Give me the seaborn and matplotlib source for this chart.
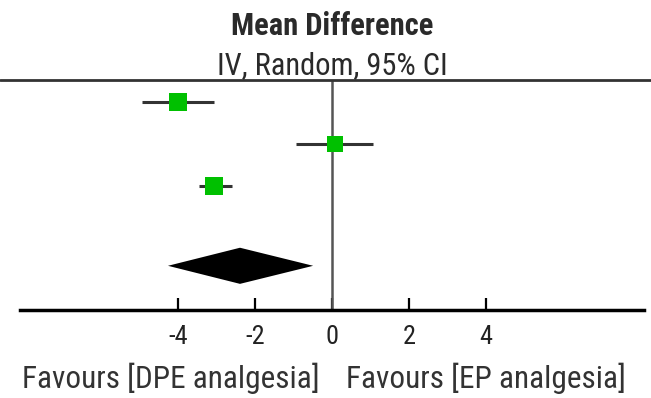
import numpy as np
import pandas as pd
import matplotlib
matplotlib.use("Agg")
import matplotlib.pyplot as plt
import seaborn as sns

# -------------------------------
# Data (mean difference, 95% CI)
# -------------------------------
studies = ["Study 1", "Study 2", "Study 3"]
md = [-4.0, 0.08, -3.06]
ci_low = [-4.94, -0.94, -3.45]
ci_high = [-3.06, 1.07, -2.60]
weights = [150, 140, 165]          # marker size (pt^2)

pooled_md = -2.39
pooled_low = -4.26
pooled_high = -0.49

tick_values = [-4, -2, 0, 2, 4]
tick_labels = ["-4", "-2", "0", "2", "4"]

title_line1 = "Mean Difference"
title_line2 = "IV, Random, 95% CI"
left_label = "Favours [DPE analgesia]"
right_label = "Favours [EP analgesia]"

# -------------------------------
# Plot
# -------------------------------
sns.set_style("white")
plt.rcParams["font.family"] = ["Roboto Condensed", "Roboto", "DejaVu Sans"]
plt.rcParams["font.stretch"] = "condensed"

fig = plt.figure(figsize=(6.51, 3.98), dpi=100)
ax = fig.add_axes([0, 0, 1, 1])

rows = np.arange(len(studies))
pooled_row = 3.9
axis_row = 4.95
top_row = -0.52

df = pd.DataFrame({"md": md, "row": rows, "w": weights})

# confidence interval lines
ax.hlines(rows, ci_low, ci_high, color="#333333", lw=2.2, zorder=2)

# study squares
sns.scatterplot(data=df, x="md", y="row", size="w", sizes=(min(weights), max(weights)),
                marker="s", color="#00c000", edgecolor="none", legend=False, ax=ax, zorder=3)

# pooled diamond
ax.fill([pooled_low, pooled_md, pooled_high, pooled_md],
        [pooled_row, pooled_row - 0.43, pooled_row, pooled_row + 0.43],
        color="black", lw=0, zorder=3)

# zero line and header line
ax.vlines(0, top_row, axis_row, color="#555555", lw=1.8, zorder=1)
ax.axhline(top_row, color="#333333", lw=2, zorder=1)

ax.set_xlim(-332 / 38.5, (651 - 332) / 38.5)
ax.set_ylim((398 - 102) / 42, -102 / 42)

# x axis drawn at the bottom row
for s in ["left", "right", "top"]:
    ax.spines[s].set_visible(False)
ax.spines["bottom"].set_position(("data", axis_row))
ax.spines["bottom"].set_bounds(-8.1, 8.1)
ax.spines["bottom"].set_linewidth(2.5)
ax.spines["bottom"].set_color("black")
ax.set_xticks(tick_values)
ax.set_xticklabels(tick_labels)
ax.tick_params(axis="x", bottom=True, direction="in", length=8.5, width=1.6, color="black",
               pad=11, labelsize=19, labelcolor="#222222")
ax.set_yticks([])
ax.set_xlabel("")
ax.set_ylabel("")

# header
ax.text(0, -1.8, title_line1, ha="center", va="center", fontsize=22,
        fontweight="bold", color="#2a2a2a")
ax.text(0, -0.87, title_line2, ha="center", va="center", fontsize=22, color="#2a2a2a")

# favours labels
ax.text(-0.31, 6.58, left_label, ha="right", va="center", fontsize=22.5, color="#333333")
ax.text(0.36, 6.58, right_label, ha="left", va="center", fontsize=22.5, color="#333333")

fig.savefig("out.png", dpi=100)
